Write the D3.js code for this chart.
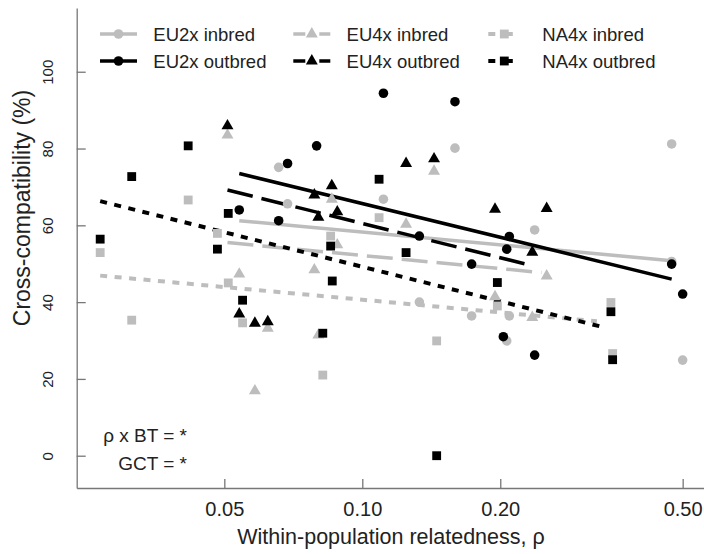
<!DOCTYPE html>
<html>
<head>
<meta charset="utf-8">
<script src="https://cdn.jsdelivr.net/npm/d3@7"></script>
<style>
  body { margin: 0; background: #fff; }
  svg { display: block; font-family: "Liberation Sans", Arial, sans-serif; }
</style>
</head>
<body>
<div id="chart"></div>
<script>
// Series: [relatedness rho, cross-compatibility %]
const eu2xInbred = [
  [0.0657, 75.1], [0.0687, 65.6], [0.1112, 66.8], [0.1593, 80.1], [0.2377, 58.8],
  [0.4731, 81.2], [0.1332, 40.0], [0.1732, 36.4], [0.2093, 36.4], [0.2066, 29.9],
  [0.5, 24.9], [0.4731, 50.6]
];
const eu2xOutbred = [
  [0.0539, 64.0], [0.0657, 61.2], [0.0687, 76.1], [0.0795, 80.7], [0.1112, 94.4],
  [0.1593, 92.2], [0.1332, 57.2], [0.1732, 49.9], [0.2093, 57.1], [0.2066, 53.8],
  [0.2031, 31.0], [0.2377, 26.2], [0.4731, 49.9], [0.5, 42.1]
];
const eu4xInbred = [
  [0.0508, 83.5], [0.0539, 47.3], [0.0583, 16.9], [0.0622, 33.2], [0.0786, 48.4],
  [0.0802, 31.4], [0.0858, 66.8], [0.0882, 54.9], [0.1246, 60.3], [0.1434, 74.1],
  [0.1948, 41.4], [0.2349, 36.0], [0.2525, 46.8]
];
const eu4xOutbred = [
  [0.0508, 85.9], [0.0539, 36.9], [0.0583, 34.5], [0.0622, 34.9], [0.0786, 67.9],
  [0.0802, 62.1], [0.0858, 70.3], [0.0882, 63.5], [0.1246, 76.1], [0.1434, 77.3],
  [0.1948, 64.2], [0.2349, 53.0], [0.2525, 64.4]
];
const na4xInbred = [
  [0.0268, 52.9], [0.0314, 35.3], [0.0417, 66.6], [0.0483, 57.9], [0.0510, 45.0],
  [0.0548, 34.6], [0.0820, 21.0], [0.0853, 57.2], [0.1088, 62.0], [0.1453, 29.9],
  [0.1971, 39.0], [0.3487, 39.9], [0.3517, 26.6]
];
const na4xOutbred = [
  [0.0268, 56.4], [0.0314, 72.7], [0.0417, 80.7], [0.0483, 53.8], [0.0510, 63.1],
  [0.0548, 40.5], [0.0820, 31.9], [0.0860, 45.5], [0.0853, 54.6], [0.1088, 72.0],
  [0.1246, 52.9], [0.1453, 0.0], [0.1971, 45.1], [0.3487, 37.5], [0.3517, 25.0]
];

// Fitted lines: [[rho0, y0], [rho1, y1]]
const eu2xInbredFit = [[0.0539, 61.2], [0.4731, 50.8]];
const eu2xOutbredFit = [[0.0539, 73.5], [0.4731, 46.0]];
const eu4xInbredFit = [[0.0508, 55.5], [0.246, 47.7]];
const eu4xOutbredFit = [[0.0508, 69.2], [0.2349, 49.5]];
const na4xInbredFit = [[0.0268, 46.9], [0.325, 35.0]];
const na4xOutbredFit = [[0.0268, 66.3], [0.33, 33.7]];

const seriesNames = ["EU2x inbred", "EU2x outbred", "EU4x inbred", "EU4x outbred", "NA4x inbred", "NA4x outbred"];
const xTicks = [0.05, 0.10, 0.20, 0.50];
const yTicks = [0, 20, 40, 60, 80, 100];

const W = 704, H = 554;
const grey = "#bdbdbd";

// styling per series (same order as seriesNames)
const styles = [
  { pts: eu2xInbred, fit: eu2xInbredFit, color: grey, shape: "circle", dash: null },
  { pts: eu2xOutbred, fit: eu2xOutbredFit, color: "#000", shape: "circle", dash: null },
  { pts: eu4xInbred, fit: eu4xInbredFit, color: grey, shape: "triangle", dash: "26,9" },
  { pts: eu4xOutbred, fit: eu4xOutbredFit, color: "#000", shape: "triangle", dash: "26,9" },
  { pts: na4xInbred, fit: na4xInbredFit, color: grey, shape: "square", dash: "7,7.5" },
  { pts: na4xOutbred, fit: na4xOutbredFit, color: "#000", shape: "square", dash: "7,7.5" }
];

const svg = d3.select("#chart")
  .append("svg")
  .attr("width", W)
  .attr("height", H);

// Log x axis, linear y axis
const x = d3.scaleLog().domain([0.023818, 0.5622]).range([76.7, 706]);
const y = d3.scaleLinear().domain([-8.41, 116.6]).range([488, 8]);

const symbolFor = {
  circle: d3.symbol().type(d3.symbolCircle).size(72),
  triangle: d3.symbol().type(d3.symbolTriangle).size(62),
  square: d3.symbol().type(d3.symbolSquare).size(78)
};

// Axes (ticks point inward)
const xAxis = svg.append("g")
  .attr("transform", `translate(0,488)`)
  .call(d3.axisBottom(x).tickValues(xTicks).tickFormat(d3.format(".2f")).tickSizeInner(-9).tickSizeOuter(0));
xAxis.selectAll("text")
  .attr("y", 28)
  .attr("dy", 0)
  .attr("fill", "#222")
  .style("font-size", "20px");

const yAxis = svg.append("g")
  .attr("transform", `translate(76.7,0)`)
  .call(d3.axisLeft(y).tickValues(yTicks).tickSizeInner(-9).tickSizeOuter(0));
yAxis.selectAll("text")
  .attr("x", 0)
  .attr("dy", 0)
  .attr("text-anchor", "middle")
  .attr("transform", "translate(-23.5,0) rotate(-90)")
  .attr("fill", "#222")
  .style("font-size", "15px");

svg.selectAll(".domain, .tick line").attr("stroke", "#777").attr("stroke-width", 1.3);
svg.selectAll(".tick text").style("font-family", "Liberation Sans, Arial, sans-serif");

// Axis titles
svg.append("text")
  .attr("x", 391)
  .attr("y", 544)
  .attr("text-anchor", "middle")
  .attr("fill", "#222")
  .style("font-size", "21.5px")
  .text("Within-population relatedness, ρ");

svg.append("text")
  .attr("transform", "translate(30,208) rotate(-90)")
  .attr("text-anchor", "middle")
  .attr("fill", "#222")
  .style("font-size", "23px")
  .text("Cross-compatibility (%)");

// Fitted lines
const line = d3.line().x(d => x(d[0])).y(d => y(d[1]));
svg.append("g").selectAll("path")
  .data(styles)
  .join("path")
  .attr("d", d => line(d.fit))
  .attr("fill", "none")
  .attr("stroke", d => d.color)
  .attr("stroke-width", d => d.shape === "square" ? 4 : 3.5)
  .attr("stroke-dasharray", d => d.dash);

// Points: inbred (grey) first, then outbred (black)
const order = [0, 2, 4, 1, 3, 5];
order.forEach(i => {
  const s = styles[i];
  svg.append("g").selectAll("path")
    .data(s.pts)
    .join("path")
    .attr("transform", d => `translate(${x(d[0])},${y(d[1])})`)
    .attr("d", symbolFor[s.shape])
    .attr("fill", s.color);
});

// Legend: 3 columns x 2 rows
const legendCols = [100, 293.3, 488.3];
const legendRows = [34, 61];
const legend = svg.append("g");
styles.forEach((s, i) => {
  const col = Math.floor(i / 2), row = i % 2;
  const lx = legendCols[col], ly = legendRows[row];
  const len = col === 2 ? 32 : 37;
  legend.append("line")
    .attr("x1", lx).attr("x2", lx + len)
    .attr("y1", ly).attr("y2", ly)
    .attr("stroke", s.color)
    .attr("stroke-width", s.shape === "square" ? 4 : 3.5)
    .attr("stroke-dasharray", s.shape === "triangle" ? "12,14" : (s.shape === "square" ? "7,10.5" : null));
  legend.append("path")
    .attr("transform", `translate(${lx + len / 2},${ly})`)
    .attr("d", symbolFor[s.shape])
    .attr("fill", s.color);
  legend.append("text")
    .attr("x", lx + (col === 2 ? 54 : 53.3))
    .attr("y", ly + 6.7)
    .attr("fill", "#222")
    .style("font-size", "18.5px")
    .text(seriesNames[i]);
});

// Significance notes
svg.append("text")
  .attr("x", 187).attr("y", 442)
  .attr("text-anchor", "end")
  .attr("fill", "#222")
  .style("font-size", "19px")
  .text("ρ x BT = *");
svg.append("text")
  .attr("x", 187).attr("y", 470)
  .attr("text-anchor", "end")
  .attr("fill", "#222")
  .style("font-size", "19px")
  .text("GCT = *");
</script>
</body>
</html>
